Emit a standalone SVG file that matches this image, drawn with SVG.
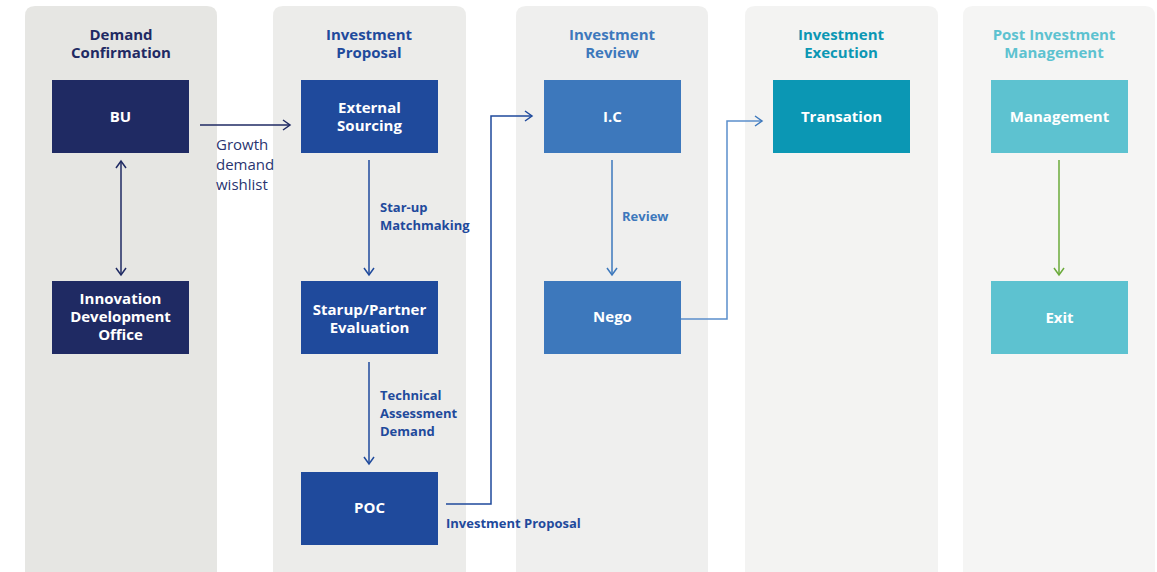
<svg xmlns="http://www.w3.org/2000/svg" width="1157" height="572" viewBox="0 0 1157 572">
<style>
.lane{stroke:none}
.title{font-family:"Open Sans","Noto Sans",sans-serif;font-weight:700;font-size:15px;text-anchor:middle}
.node text{font-family:"Open Sans","Noto Sans",sans-serif;font-weight:700;font-size:15px;fill:#fff;text-anchor:middle}
.lbl{font-family:"Open Sans","Noto Sans",sans-serif;font-weight:700;font-size:13px}
.reg{font-family:"Open Sans","Noto Sans",sans-serif;font-size:15px;fill:#2a3570}
.conn{fill:none;stroke-width:1.5}
</style>
<defs>
<marker id="a1" markerWidth="12" markerHeight="12" refX="9" refY="6" orient="auto-start-reverse" markerUnits="userSpaceOnUse"><path d="M2,1 L9,6 L2,11" fill="none" stroke="#1f2a63" stroke-width="1.5"/></marker>
<marker id="a2" markerWidth="12" markerHeight="12" refX="9" refY="6" orient="auto" markerUnits="userSpaceOnUse"><path d="M2,1 L9,6 L2,11" fill="none" stroke="#1f4a9c" stroke-width="1.5"/></marker>
<marker id="a3" markerWidth="12" markerHeight="12" refX="9" refY="6" orient="auto" markerUnits="userSpaceOnUse"><path d="M2,1 L9,6 L2,11" fill="none" stroke="#3d78bc" stroke-width="1.5"/></marker>
<marker id="a4" markerWidth="12" markerHeight="12" refX="9" refY="6" orient="auto" markerUnits="userSpaceOnUse"><path d="M2,1 L9,6 L2,11" fill="none" stroke="#6aaa3a" stroke-width="1.5"/></marker>
</defs>
<rect width="1157" height="572" fill="#fff"/>
<g id="lanes">
<path class="lane" d="M25,572 V16 Q25,6 35,6 H207 Q217,6 217,16 V572 Z" fill="#e6e6e3"/>
<path class="lane" d="M273,572 V16 Q273,6 283,6 H456 Q466,6 466,16 V572 Z" fill="#ececea"/>
<path class="lane" d="M516,572 V16 Q516,6 526,6 H698 Q708,6 708,16 V572 Z" fill="#efefee"/>
<path class="lane" d="M745,572 V16 Q745,6 755,6 H928 Q938,6 938,16 V572 Z" fill="#f3f3f2"/>
<path class="lane" d="M963,572 V16 Q963,6 973,6 H1145 Q1155,6 1155,16 V572 Z" fill="#f5f5f4"/>
<text class="title" fill="#1f2a63"><tspan x="121" y="40">Demand</tspan><tspan x="121" y="58">Confirmation</tspan></text>
<text class="title" fill="#1f4a9c"><tspan x="369" y="40">Investment</tspan><tspan x="369" y="58">Proposal</tspan></text>
<text class="title" fill="#3d78bc"><tspan x="612" y="40">Investment</tspan><tspan x="612" y="58">Review</tspan></text>
<text class="title" fill="#0b97b4"><tspan x="841" y="40">Investment</tspan><tspan x="841" y="58">Execution</tspan></text>
<text class="title" fill="#5dc2d0"><tspan x="1054" y="40">Post Investment</tspan><tspan x="1054" y="58">Management</tspan></text>
</g>
<g id="connectors">
<line class="conn" x1="121" y1="161" x2="121" y2="275" stroke="#1f2a63" marker-start="url(#a1)" marker-end="url(#a1)"/>
<line class="conn" x1="200" y1="125" x2="290" y2="125" stroke="#1f2a63" marker-end="url(#a1)"/>
<line class="conn" x1="369" y1="160" x2="369" y2="275" stroke="#1f4a9c" marker-end="url(#a2)"/>
<line class="conn" x1="369" y1="362" x2="369" y2="464" stroke="#1f4a9c" marker-end="url(#a2)"/>
<polyline class="conn" points="446,504 491,504 491,116 532,116" stroke="#1f4a9c" marker-end="url(#a2)"/>
<line class="conn" x1="612" y1="160" x2="612" y2="275" stroke="#3d78bc" marker-end="url(#a3)"/>
<polyline class="conn" points="681,319 727,319 727,121 762,121" stroke="#5b8fcc" marker-end="url(#a3)"/>
<line class="conn" x1="1059" y1="160" x2="1059" y2="275" stroke="#6aaa3a" marker-end="url(#a4)"/>
<text class="reg"><tspan x="216" y="150">Growth</tspan><tspan x="216" y="170">demand</tspan><tspan x="216" y="190">wishlist</tspan></text>
<text class="lbl" fill="#1f4a9c"><tspan x="380" y="212">Star-up</tspan><tspan x="380" y="230">Matchmaking</tspan></text>
<text class="lbl" fill="#1f4a9c"><tspan x="380" y="400">Technical</tspan><tspan x="380" y="418">Assessment</tspan><tspan x="380" y="436">Demand</tspan></text>
<text class="lbl" fill="#1f4a9c" x="446" y="528">Investment Proposal</text>
<text class="lbl" fill="#3d78bc" x="622" y="221">Review</text>
</g>
<g id="bu" class="node"><rect x="52" y="80" width="137" height="73" fill="#1f2a63"/><text x="120.5" y="122">BU</text></g>
<g id="ido" class="node"><rect x="52" y="281" width="137" height="73" fill="#1f2a63"/><text><tspan x="120.5" y="304">Innovation</tspan><tspan x="120.5" y="322">Development</tspan><tspan x="120.5" y="340">Office</tspan></text></g>
<g id="es" class="node"><rect x="301" y="80" width="137" height="73" fill="#1f4a9c"/><text><tspan x="369.5" y="113">External</tspan><tspan x="369.5" y="131">Sourcing</tspan></text></g>
<g id="spe" class="node"><rect x="301" y="281" width="137" height="73" fill="#1f4a9c"/><text><tspan x="369.5" y="315">Starup/Partner</tspan><tspan x="369.5" y="333">Evaluation</tspan></text></g>
<g id="poc" class="node"><rect x="301" y="472" width="137" height="73" fill="#1f4a9c"/><text x="369.5" y="513">POC</text></g>
<g id="ic" class="node"><rect x="544" y="80" width="137" height="73" fill="#3d78bc"/><text x="612.5" y="122">I.C</text></g>
<g id="nego" class="node"><rect x="544" y="281" width="137" height="73" fill="#3d78bc"/><text x="612.5" y="322">Nego</text></g>
<g id="trans" class="node"><rect x="773" y="80" width="137" height="73" fill="#0b97b4"/><text x="841.5" y="122">Transation</text></g>
<g id="mgmt" class="node"><rect x="991" y="80" width="137" height="73" fill="#5dc2d0"/><text x="1059.5" y="122">Management</text></g>
<g id="exit" class="node"><rect x="991" y="281" width="137" height="73" fill="#5dc2d0"/><text x="1059.5" y="323">Exit</text></g>
</svg>
